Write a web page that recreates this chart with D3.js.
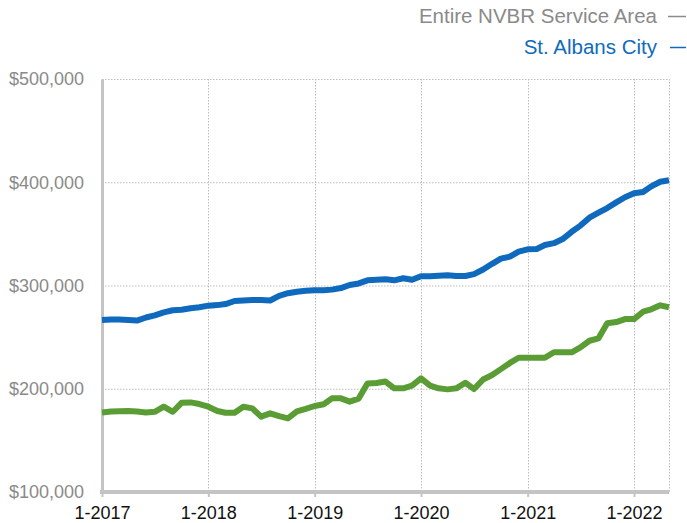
<!DOCTYPE html>
<html>
<head>
<meta charset="utf-8">
<script src="https://cdn.jsdelivr.net/npm/d3@7"></script>
<style>
    body { margin: 0; background: #fff; }
    svg { display: block; font-family: "Liberation Sans", Arial, sans-serif; }
</style>
</head>
<body>
<svg width="687" height="523"></svg>
<script>
// monthly values, Jan 2017 .. May 2022
const startMonth = "2017-01";
const yearTicks = ["1-2017", "1-2018", "1-2019", "1-2020", "1-2021", "1-2022"];
const yTicks = [100000, 200000, 300000, 400000, 500000];

const stAlbans = [
    266.5, 267, 267, 266.5, 266, 269, 271, 274, 276, 276.5, 278, 279,
    280.5, 281, 282, 285, 285.5, 286, 286, 285.5, 290, 292.5, 294, 295,
    295.5, 295.5, 296, 297.5, 300.5, 302, 305, 305.5, 306, 305, 307, 305.5,
    309, 309, 309.5, 310, 309.2, 309.2, 311, 315.5, 321, 326, 328, 332.8,
    335, 335.4, 339.2, 341, 345, 352, 358, 365.7, 370.5, 375, 380.5, 385.5,
    389.3, 390.5, 396, 400.5, 402
];

const nvbr = [
    177, 178, 178.3, 178.4, 178, 177.1, 177.7, 182.6, 177.7, 186.4, 186.8, 185.2,
    182.6, 178.4, 176.8, 176.8, 182.6, 181, 173, 176.2, 173.5, 171.3, 178, 180.5,
    183.3, 185, 190.7, 190.7, 187.5, 190.5, 205.2, 205.5, 207, 200.4, 200.4, 203,
    210, 203, 200.4, 199.4, 200.4, 205.8, 199.7, 209, 213.3, 219, 225, 230,
    230, 230, 230, 235.3, 235.3, 235.3, 240, 246.5, 248.8, 263.4, 264.6, 267.5,
    267.5, 274.6, 276.9, 280.8, 278.9
];

const legendLabels = ["Entire NVBR Service Area", "St. Albans City"];

const colors =
{
    blue: "#0f6abd",
    green: "#5b9d35",
    axis: "#c4c4c4",
    grid: "#bdbdbd",
    yText: "#8a8a8a",
    xText: "#111"
};

const svg = d3.select("svg");
const plot = { left: 102, right: 669, top: 79, bottom: 492 };

const parseMonth = d3.timeParse("%Y-%m");
const t0 = parseMonth(startMonth);
const dates = stAlbans.map((d, i) => d3.timeMonth.offset(t0, i));

const x = d3.scaleTime().domain([dates[0], dates[dates.length - 1]]).range([plot.left, plot.right]);
const y = d3.scaleLinear().domain([100000, 500000]).range([plot.bottom, plot.top]);

const yearDates = yearTicks.map(s => d3.timeParse("%m-%Y")(s));

// grid
const grid = svg.append("g");
grid.selectAll("line.h")
    .data(yTicks.slice(1))
    .join("line")
    .attr("class", "h")
    .attr("x1", plot.left).attr("x2", plot.right)
    .attr("y1", d => y(d) + 0.5).attr("y2", d => y(d) + 0.5)
    .attr("stroke", colors.grid)
    .attr("stroke-dasharray", "1.5,1.5");

grid.selectAll("line.v")
    .data(yearDates.slice(1).concat([x.domain()[1]]))
    .join("line")
    .attr("class", "v")
    .attr("x1", d => Math.round(x(d)) + 0.5).attr("x2", d => Math.round(x(d)) + 0.5)
    .attr("y1", plot.top).attr("y2", plot.bottom)
    .attr("stroke", colors.grid)
    .attr("stroke-dasharray", "1.5,1.5");

// axes
const xAxis = svg.append("g")
    .attr("transform", `translate(0,${plot.bottom})`)
    .call(d3.axisBottom(x).tickValues(yearDates).tickFormat((d, i) => yearTicks[i]).tickSize(5).tickPadding(9));
xAxis.select(".domain").attr("stroke", colors.axis).attr("stroke-width", 4).attr("d", `M${plot.left - 2},0H${plot.right}`);
xAxis.selectAll(".tick line").attr("stroke", colors.axis).attr("stroke-width", 2);
xAxis.selectAll(".tick text").attr("fill", colors.xText).attr("font-size", 18).attr("font-family", "Liberation Sans, Arial, sans-serif");

const yAxis = svg.append("g")
    .attr("transform", `translate(${plot.left},0)`)
    .call(d3.axisLeft(y).tickValues(yTicks).tickFormat(d3.format("$,")).tickSize(0).tickPadding(18));
yAxis.select(".domain").attr("stroke", colors.axis).attr("stroke-width", 3);
yAxis.selectAll(".tick text").attr("fill", colors.yText).attr("font-size", 18).attr("font-family", "Liberation Sans, Arial, sans-serif");

// lines
const line = d3.line()
    .x((d, i) => x(dates[i]))
    .y(d => y(d * 1000));

[[nvbr, colors.green], [stAlbans, colors.blue]].forEach(([series, c]) =>
{
    svg.append("path")
        .datum(series)
        .attr("fill", "none")
        .attr("stroke", c)
        .attr("stroke-width", 6)
        .attr("stroke-linejoin", "round")
        .attr("d", line);
});

// legend (top right)
const legend = svg.append("g");
legend.selectAll("text")
    .data(legendLabels)
    .join("text")
    .attr("x", 657)
    .attr("y", (d, i) => 23 + i * 31)
    .attr("text-anchor", "end")
    .attr("font-size", 20.5)
    .attr("fill", (d, i) => i === 0 ? colors.yText : colors.blue)
    .text(d => d);

legend.selectAll("line")
    .data(legendLabels)
    .join("line")
    .attr("x1", (d, i) => i === 0 ? 668 : 670)
    .attr("x2", 686)
    .attr("y1", (d, i) => 16.5 + i * 31)
    .attr("y2", (d, i) => 16.5 + i * 31)
    .attr("stroke", (d, i) => i === 0 ? colors.yText : colors.blue)
    .attr("stroke-width", 1.5);
</script>
</body>
</html>
